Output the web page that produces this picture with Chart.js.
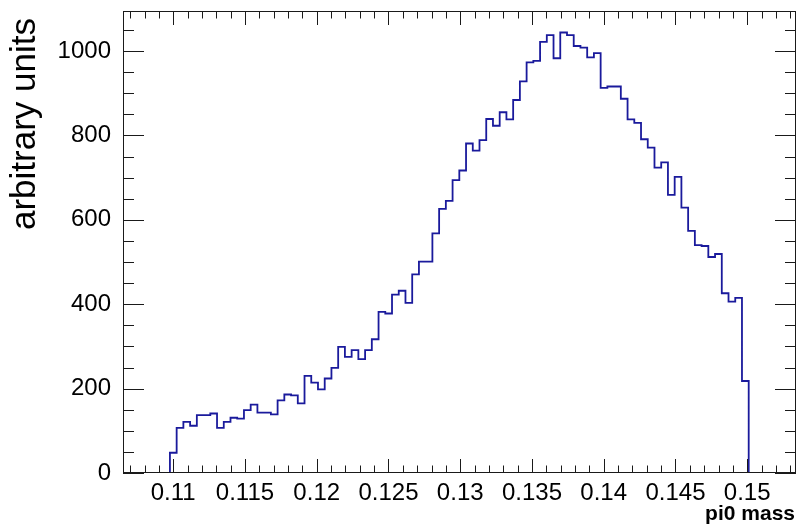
<!DOCTYPE html>
<html>
<head>
<meta charset="utf-8">
<script src="https://cdn.jsdelivr.net/npm/chart.js@4/dist/chart.umd.min.js"></script>
<style>
    html, body { margin: 0; padding: 0; background: #fff; }
    #wrap { width: 798px; height: 527px; }
</style>
</head>
<body>
<div id="wrap"><canvas id="massChart" width="798" height="527"></canvas></div>
<script>
// pi0 mass histogram, counts per bin
const binStart = 0.10977;
const binWidth = 0.000469;
const binCounts = [
    48, 107, 121, 112, 137, 137, 141, 107, 121, 131, 129, 149, 162, 143, 143, 139, 172, 186, 184, 165,
    230, 214, 198, 224, 249, 299, 275, 291, 270, 291, 317, 382, 378, 423, 432, 403, 471, 501, 501,
    568, 626, 645, 694, 717, 781, 764, 789, 839, 823, 855, 838, 884, 928, 973, 977, 1022, 1038,
    983, 1044, 1038, 1012, 1008, 985, 995, 913, 916, 916, 887, 838, 830, 791, 771, 724, 736, 659, 702, 629, 574,
    540, 538, 512, 519, 426, 406, 415, 218
];

const xRange = [0.1065, 0.1534];
const yRange = [0, 1095];
const xTickLabels = ['0.11', '0.115', '0.12', '0.125', '0.13', '0.135', '0.14', '0.145', '0.15'];
const yTickLabels = ['0', '200', '400', '600', '800', '1000'];
const xMinorStep = 0.001;
const yMinorStep = 50;

const xTitle = 'pi0 mass';
const yTitle = 'arbitrary units';

// step outline: start at zero, one point per bin left edge, back to zero at the end
const points = [{ x: binStart, y: 0 }];
binCounts.forEach((c, i) => points.push({ x: binStart + i * binWidth, y: c }));
points.push({ x: binStart + binCounts.length * binWidth, y: 0 });

const ink = '#1a1a1a';

// ROOT-like frame: box on all sides, ticks pointing inward, axis titles
const rootFrame = {
    id: 'rootFrame',
    afterDraw(chart) {
        const { ctx, chartArea: a, scales } = chart;
        const xs = scales.x, ys = scales.y;
        ctx.save();
        ctx.strokeStyle = ink;
        ctx.lineWidth = 1;
        ctx.strokeRect(a.left + 0.5, a.top + 0.5, a.right - a.left - 1, a.bottom - a.top - 1);

        ctx.beginPath();
        // x minor + major
        const xMajor = xTickLabels.map(Number);
        for (let v = Math.ceil(xRange[0] / xMinorStep) * xMinorStep; v <= xRange[1] + 1e-9; v += xMinorStep) {
            const isMajor = xMajor.some(m => Math.abs(m - v) < 1e-7);
            const len = isMajor ? 14 : 7.5;
            const px = Math.round(xs.getPixelForValue(v)) + 0.5;
            ctx.moveTo(px, a.bottom); ctx.lineTo(px, a.bottom - len);
            ctx.moveTo(px, a.top); ctx.lineTo(px, a.top + len);
        }
        // y minor + major
        const yMajor = yTickLabels.map(Number);
        for (let v = 0; v <= yRange[1]; v += yMinorStep) {
            const len = yMajor.includes(v) ? 21 : 11;
            const py = Math.round(ys.getPixelForValue(v)) + 0.5;
            ctx.moveTo(a.left, py); ctx.lineTo(a.left + len, py);
            ctx.moveTo(a.right, py); ctx.lineTo(a.right - len, py);
        }
        ctx.stroke();

        ctx.fillStyle = '#000';
        ctx.font = 'bold 21px "Liberation Sans", Arial, sans-serif';
        ctx.textAlign = 'right';
        ctx.textBaseline = 'alphabetic';
        ctx.fillText(xTitle, a.right - 1, 520);

        ctx.font = '35px "Liberation Sans", Arial, sans-serif';
        ctx.translate(35, 18);
        ctx.rotate(-Math.PI / 2);
        ctx.textAlign = 'right';
        ctx.fillText(yTitle, 0, 0);
        ctx.restore();
    }
};

new Chart(document.getElementById('massChart'), {
    type: 'line',
    data: {
        datasets: [{
            data: points,
            stepped: 'before',
            borderColor: '#1a1a9c',
            borderWidth: 1.8,
            pointRadius: 0,
            fill: false,
            tension: 0
        }]
    },
    options: {
        responsive: false,
        animation: false,
        layout: { padding: { top: 11, right: 2, left: 0, bottom: 0 } },
        plugins: { legend: { display: false }, tooltip: { enabled: false } },
        scales: {
            x: {
                type: 'linear',
                min: xRange[0],
                max: xRange[1],
                grid: { display: false, drawTicks: false },
                border: { display: false },
                afterBuildTicks: s => { s.ticks = xTickLabels.map(t => ({ value: Number(t) })); },
                afterFit: s => { s.height = 54; s.paddingLeft = 0; s.paddingRight = 0; },
                ticks: {
                    padding: 6,
                    autoSkip: false,
                    maxRotation: 0,
                    color: '#000',
                    font: { family: '"Liberation Sans", Arial, sans-serif', size: 24 },
                    callback: (v, i) => xTickLabels[i]
                }
            },
            y: {
                type: 'linear',
                min: yRange[0],
                max: yRange[1],
                grid: { display: false, drawTicks: false },
                border: { display: false },
                afterBuildTicks: s => { s.ticks = yTickLabels.map(t => ({ value: Number(t) })); },
                afterFit: s => { s.width = 123; s.paddingTop = 0; s.paddingBottom = 0; },
                ticks: {
                    padding: 12,
                    color: '#000',
                    font: { family: '"Liberation Sans", Arial, sans-serif', size: 24 },
                    callback: (v, i) => yTickLabels[i]
                }
            }
        }
    },
    plugins: [rootFrame]
});
</script>
</body>
</html>
